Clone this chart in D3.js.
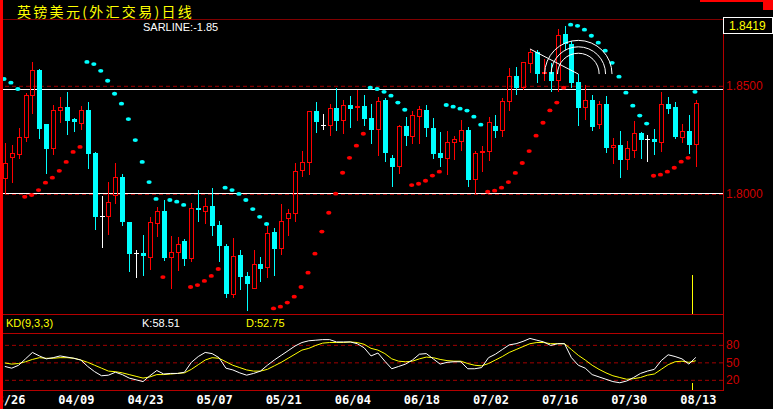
<!DOCTYPE html>
<html><head><meta charset="utf-8">
<script src="https://cdn.jsdelivr.net/npm/d3@7"></script>
<style>body{margin:0;background:#000;overflow:hidden}svg{display:block}</style>
</head><body><script>
// ---------- data ----------
const title = "英镑美元(外汇交易)日线";
const tickLabels = ["03/26","04/09","04/23","05/07","05/21","06/04","06/18","07/02","07/16","07/30","08/13"];
const open = [1.8067,1.8165,1.8178,1.8258,1.8452,1.8571,1.8321,1.8206,1.8383,1.8400,
1.8343,1.8323,1.8386,1.8186,1.7896,1.7893,1.7990,1.8076,1.7868,1.7724,
1.7724,1.7703,1.7861,1.7919,1.7703,1.7727,1.7781,1.7697,1.7933,1.7916,
1.7942,1.7855,1.7758,1.7531,1.7716,1.7619,1.7560,1.7674,1.7657,1.7822,
1.7744,1.7884,1.7903,1.8105,1.8142,1.8381,1.8317,1.8313,1.8395,1.8336,
1.8409,1.8396,1.8404,1.8349,1.8293,1.8432,1.8164,1.8122,1.8312,1.8261,
1.8354,1.8386,1.8303,1.8187,1.8159,1.8233,1.8238,1.8293,1.8062,1.8189,
1.8192,1.8312,1.8289,1.8423,1.8543,1.8487,1.8598,1.8654,1.8555,1.8561,
1.8520,1.8737,1.8691,1.8515,1.8395,1.8432,1.8317,1.8414,1.8210,1.8224,
1.8155,1.8196,1.8280,1.8252,1.8252,1.8233,1.8414,1.8400,1.8256,1.8289,
1.8224];
const high = [1.8233,1.8224,1.8301,1.8463,1.8609,1.8575,1.8321,1.8409,1.8447,1.8470,
1.8348,1.8404,1.8424,1.8193,1.7990,1.8055,1.8142,1.8090,1.7868,1.7739,
1.7808,1.7890,1.7936,1.7970,1.7804,1.7800,1.7790,1.7958,1.8016,1.7981,
1.8025,1.7873,1.7767,1.7794,1.7739,1.7637,1.7739,1.7707,1.7850,1.7842,
1.7953,1.7927,1.8140,1.8196,1.8381,1.8423,1.8367,1.8414,1.8487,1.8432,
1.8451,1.8478,1.8455,1.8414,1.8444,1.8441,1.8178,1.8317,1.8354,1.8381,
1.8404,1.8409,1.8349,1.8284,1.8289,1.8266,1.8340,1.8307,1.8196,1.8220,
1.8354,1.8363,1.8441,1.8580,1.8585,1.8608,1.8668,1.8663,1.8621,1.8603,
1.8760,1.8776,1.8705,1.8552,1.8501,1.8455,1.8427,1.8451,1.8256,1.8289,
1.8243,1.8335,1.8284,1.8270,1.8298,1.8469,1.8446,1.8423,1.8321,1.8363,
1.8432];
const low = [1.8002,1.8055,1.8163,1.8244,1.8371,1.8255,1.8093,1.8183,1.8332,1.8275,
1.8289,1.8298,1.8119,1.7836,1.7754,1.7813,1.7958,1.7856,1.7643,1.7616,
1.7624,1.7650,1.7804,1.7693,1.7565,1.7647,1.7670,1.7688,1.7873,1.7865,
1.7808,1.7688,1.7521,1.7523,1.7560,1.7462,1.7560,1.7597,1.7616,1.7624,
1.7722,1.7808,1.7873,1.8081,1.8090,1.8284,1.8298,1.8270,1.8293,1.8281,
1.8309,1.8340,1.8317,1.8233,1.8178,1.8150,1.8035,1.8095,1.8224,1.8233,
1.8233,1.8266,1.8164,1.8127,1.8090,1.8159,1.8201,1.8035,1.8002,1.8104,
1.8155,1.8261,1.8266,1.8386,1.8460,1.8483,1.8561,1.8515,1.8524,1.8474,
1.8474,1.8668,1.8492,1.8317,1.8344,1.8293,1.8303,1.8192,1.8141,1.8076,
1.8113,1.8169,1.8164,1.8150,1.8183,1.8196,1.8372,1.8256,1.8238,1.8187,
1.8127];
const close = [1.8141,1.8186,1.8260,1.8455,1.8571,1.8298,1.8206,1.8386,1.8400,1.8335,
1.8332,1.8386,1.8183,1.7893,1.7896,1.7961,1.8076,1.7868,1.7721,1.7724,
1.7711,1.7868,1.7918,1.7703,1.7728,1.7767,1.7697,1.7932,1.7924,1.7942,
1.7851,1.7759,1.7536,1.7711,1.7616,1.7583,1.7674,1.7651,1.7818,1.7744,
1.7873,1.7909,1.8104,1.8146,1.8381,1.8330,1.8317,1.8395,1.8335,1.8409,
1.8390,1.8404,1.8344,1.8293,1.8427,1.8187,1.8122,1.8312,1.8266,1.8363,
1.8390,1.8303,1.8183,1.8164,1.8238,1.8252,1.8293,1.8062,1.8187,1.8196,
1.8330,1.8289,1.8427,1.8543,1.8487,1.8608,1.8654,1.8552,1.8561,1.8520,
1.8732,1.8691,1.8511,1.8395,1.8432,1.8307,1.8414,1.8210,1.8224,1.8155,
1.8210,1.8280,1.8247,1.8252,1.8238,1.8414,1.8390,1.8261,1.8289,1.8224,
1.8419];
const sar = [1.8529,1.8512,1.8483,1.7985,1.7993,1.8016,1.8050,1.8073,1.8105,1.8146,
1.8192,1.8215,1.8608,1.8598,1.8567,1.8521,1.8461,1.8415,1.8344,1.8247,
1.8146,1.8053,1.7975,1.7614,1.7970,1.7962,1.7947,1.7568,1.7577,1.7596,
1.7619,1.7651,1.8027,1.8016,1.7998,1.7970,1.7928,1.7892,1.7859,1.7469,
1.7477,1.7496,1.7523,1.7568,1.7634,1.7722,1.7824,1.7911,1.7999,1.8096,
1.8165,1.8221,1.8276,1.8489,1.8483,1.8470,1.8452,1.8420,1.8387,1.8039,
1.8045,1.8059,1.8083,1.8101,1.8409,1.8401,1.8392,1.8383,1.8355,1.8318,
1.8008,1.8013,1.8027,1.8053,1.8095,1.8141,1.8196,1.8267,1.8327,1.8384,
1.8420,1.8489,1.8780,1.8775,1.8757,1.8729,1.8697,1.8660,1.8604,1.8540,
1.8466,1.8406,1.8360,1.8323,1.8082,1.8087,1.8101,1.8119,1.8147,1.8165,
1.8470];
const kValues = [43,40,45,56,67,61,56,58,61,59,
57,54,43,34,27,28,33,29,23,20,
17,27,36,30,31,31,33,50,60,67,
65,58,40,37,32,28,31,35,45,54,
62,70,78,84,87,88,89,89,85,85,
85,82,75,61,66,52,39,43,47,54,
64,65,56,47,50,51,51,39,39,41,
58,64,72,80,82,86,91,88,85,79,
82,82,58,45,40,29,25,21,17,15,
18,24,31,35,38,53,63,60,56,47,
58.51];
const dValues = [49,47,48,51,55,58,57,57,58,58,
57,54,50,45,40,35,34,32,29,26,
23,25,29,29,30,31,32,38,46,54,
58,57,51,45,41,37,35,35,38,44,
50,57,64,71,74,79,83,84,84,84,
85,84,81,74,71,65,56,52,51,52,
56,59,58,55,53,52,52,48,45,44,
48,54,60,67,72,77,82,84,84,82,
82,82,72,62,54,45,38,32,27,24,
21,22,24,28,30,38,46,51,52,50,
52.75];
const priceTicks = [1.80, 1.85];
const kdTicks = [20, 50, 80];
const hLines = [1.8481, 1.8002];          // user drawn horizontal lines
const fibLine = [{i:76, p:1.8668}, {i:83, p:1.8552}];
const fibRatios = [0.382, 0.5, 0.618];
const sarParam = "-1.85";

// categories: weekday dates 2004-03-26 .. 2004-08-13
const dates = d3.timeDay.range(new Date(2004,2,26), new Date(2004,7,14))
  .filter(d => d.getDay() !== 0 && d.getDay() !== 6)
  .map(d3.timeFormat("%m/%d"));

// ---------- layout ----------
const W = 773, H = 409;
const L = 3, R = 723;
const C = {red:"#ff0000", cyan:"#00ffff", white:"#ffffff", yellow:"#ffff00",
           frame:"#b40000", grid:"#a00000", label:"#d00000", dark:"#800000"};

const svg = d3.select("body").append("svg").attr("width", W).attr("height", H)
  .style("background", "#000");

const x = d3.scalePoint().domain(dates).range([4.8, 695.8]);
const y = d3.scaleLinear().domain([1.80, 1.85]).range([193.5, 85.3]);
const yK = d3.scaleLinear().domain([0, 100]).range([391.5, 333.2]);

const defs = svg.append("defs");
defs.append("clipPath").attr("id","clipMain").append("rect")
  .attr("x", L).attr("y", 20).attr("width", R - L).attr("height", 294);
defs.append("clipPath").attr("id","clipKD").append("rect")
  .attr("x", L).attr("y", 334).attr("width", R - L).attr("height", 56);

// ---------- frame ----------
const hline = (yy, x1, x2, col, dash) => svg.append("line")
  .attr("x1", x1).attr("x2", x2).attr("y1", yy).attr("y2", yy)
  .attr("stroke", col).attr("stroke-width", 1).attr("stroke-dasharray", dash || null);
hline(19.5, L, R, C.dark);
hline(314.5, L, R, C.frame);
hline(333.5, L, R, C.frame);
hline(390.5, L, R, C.frame);
svg.append("line").attr("x1", R + 0.5).attr("x2", R + 0.5).attr("y1", 19).attr("y2", 391)
  .attr("stroke", C.frame);

// price grid + axis
svg.append("g").attr("transform", `translate(${R},0)`)
  .call(d3.axisLeft(y).tickValues(priceTicks).tickSize(R - L).tickFormat(""))
  .call(g => { g.select(".domain").remove();
    g.selectAll("line").attr("stroke", C.grid).attr("stroke-dasharray", "4,3")
      .attr("transform", "translate(0,0.5)"); });
svg.append("g").attr("transform", `translate(${R},0)`)
  .call(d3.axisRight(y).tickValues(priceTicks).tickSize(0).tickPadding(3).tickFormat(d3.format(".4f")))
  .call(g => { g.select(".domain").remove();
    g.selectAll("text").attr("fill", C.label).attr("font-family", "Liberation Sans, Arial, sans-serif")
      .attr("font-size", 12); });

// KD grid + axis
svg.append("g").attr("transform", `translate(${R},0)`)
  .call(d3.axisLeft(yK).tickValues(kdTicks).tickSize(R - L).tickFormat(""))
  .call(g => { g.select(".domain").remove();
    g.selectAll("line").attr("stroke", C.grid).attr("stroke-dasharray", "4,3"); });
svg.append("g").attr("transform", `translate(${R},0)`)
  .call(d3.axisRight(yK).tickValues(kdTicks).tickSize(0).tickPadding(3).tickFormat(d3.format("d")))
  .call(g => { g.select(".domain").remove();
    g.selectAll("text").attr("fill", C.label).attr("font-family", "Liberation Sans, Arial, sans-serif")
      .attr("font-size", 12); });

// user horizontal lines
hLines.forEach(p => hline(Math.round(y(p)) + 0.5, L, R, C.white));

// ---------- candles ----------
const gMain = svg.append("g").attr("clip-path", "url(#clipMain)");
dates.forEach((d, i) => {
  const cx = Math.round(x(d));
  const o = open[i], c = close[i], h = high[i], l = low[i];
  const yo = Math.round(y(o)), yc = Math.round(y(c)), yh = Math.round(y(h)), yl = Math.round(y(l));
  const g = gMain.append("g");
  const vl = (a, b, col) => g.append("line").attr("x1", cx + 0.5).attr("x2", cx + 0.5)
    .attr("y1", a).attr("y2", b).attr("stroke", col);
  if (c > o) {
    const top = yc, bot = yo;
    if (yh < top) vl(yh, top, C.red);
    if (yl > bot) vl(bot, yl + 1, C.red);
    if (bot - top >= 2) {
      g.append("rect").attr("x", cx - 1.5).attr("y", top + 0.5).attr("width", 4)
        .attr("height", bot - top - 1).attr("fill", "none").attr("stroke", C.red);
    } else {
      g.append("rect").attr("x", cx - 2).attr("y", top).attr("width", 5)
        .attr("height", Math.max(1, bot - top + 1)).attr("fill", C.red);
    }
  } else if (c < o) {
    vl(yh, yl + 1, C.cyan);
    g.append("rect").attr("x", cx - 2).attr("y", yo).attr("width", 5)
      .attr("height", Math.max(1, yc - yo)).attr("fill", C.cyan);
  } else {
    vl(yh, yl + 1, C.white);
    g.append("line").attr("x1", cx - 2).attr("x2", cx + 3).attr("y1", yo + 0.5).attr("y2", yo + 0.5)
      .attr("stroke", C.white);
  }
});

// ---------- SAR ----------
gMain.selectAll("ellipse.sar").data(dates).join("ellipse").attr("class", "sar")
  .attr("cx", d => x(d) - 0.8)
  .attr("cy", (d, i) => y(sar[i]))
  .attr("rx", 2.6).attr("ry", 1.9)
  .attr("fill", (d, i) => sar[i] > close[i] ? C.cyan : C.red);

// ---------- Fibonacci arcs ----------
const fx0 = x(dates[fibLine[0].i]), fy0 = y(fibLine[0].p);
const fx1 = x(dates[fibLine[1].i]), fy1 = y(fibLine[1].p);
gMain.append("line").attr("x1", fx0).attr("y1", fy0).attr("x2", fx1).attr("y2", fy1)
  .attr("stroke", C.white);
const flen = Math.hypot(fx1 - fx0, fy1 - fy0);
fibRatios.forEach(r => {
  const rr = flen * r;
  gMain.append("path")
    .attr("d", `M${fx1 - rr},${fy1} A${rr},${rr} 0 0 1 ${fx1 + rr},${fy1}`)
    .attr("fill", "none").attr("stroke", C.white).attr("stroke-width", 1);
});

// current bar marker
const mx = Math.round(x(dates[100]) - 3.5) + 0.5;
svg.append("line").attr("x1", mx).attr("x2", mx).attr("y1", 275).attr("y2", 314).attr("stroke", C.yellow);
svg.append("line").attr("x1", mx).attr("x2", mx).attr("y1", 383).attr("y2", 390).attr("stroke", C.yellow);

// ---------- KD ----------
const gKD = svg.append("g").attr("clip-path", "url(#clipKD)");
gKD.append("path").datum(dValues)
  .attr("d", d3.line().x((v, i) => x(dates[i])).y(v => yK(v)))
  .attr("fill", "none").attr("stroke", C.yellow).attr("stroke-width", 1);
gKD.append("path").datum(kValues)
  .attr("d", d3.line().x((v, i) => x(dates[i])).y(v => yK(v)))
  .attr("fill", "none").attr("stroke", C.white).attr("stroke-width", 1);

const sans = "Liberation Sans, Arial, sans-serif";
svg.append("text").attr("x", 6).attr("y", 327).attr("fill", C.yellow)
  .attr("font-family", sans).attr("font-size", 11).text("KD(9,3,3)");
svg.append("text").attr("x", 142).attr("y", 327).attr("fill", C.white)
  .attr("font-family", sans).attr("font-size", 11).text("K:" + kValues[100].toFixed(2));
svg.append("text").attr("x", 246).attr("y", 327).attr("fill", C.yellow)
  .attr("font-family", sans).attr("font-size", 11).text("D:" + dValues[100].toFixed(2));

// ---------- date axis ----------
svg.append("g").attr("transform", "translate(2,392)")
  .call(d3.axisBottom(x).tickValues(tickLabels).tickSize(0).tickPadding(3))
  .call(g => { g.select(".domain").remove();
    g.selectAll("text").attr("fill", C.white).attr("font-family", "DejaVu Sans Mono, monospace")
      .attr("font-weight", "bold").attr("font-size", 12).attr("dy", "0.71em"); });

// ---------- titles ----------
svg.append("text").attr("x", 17).attr("y", 16.5).attr("fill", C.yellow)
  .attr("font-family", "Noto Sans CJK SC, sans-serif").attr("font-size", 14)
  .attr("letter-spacing", 2.3).text(title);
svg.append("text").attr("x", 143).attr("y", 31).attr("fill", C.white)
  .attr("font-family", sans).attr("font-size", 11).text("SARLINE:" + sarParam);

// last price box
svg.append("rect").attr("x", R + 0.5).attr("y", 17.5).attr("width", 49).attr("height", 16)
  .attr("fill", "#000").attr("stroke", C.white);
svg.append("text").attr("x", R + 6).attr("y", 30).attr("fill", C.yellow)
  .attr("font-family", sans).attr("font-size", 12).text(close[100].toFixed(4));

// edges
svg.append("rect").attr("x", 0).attr("y", 0).attr("width", 3).attr("height", H).attr("fill", C.red);
svg.append("rect").attr("x", 700).attr("y", 0).attr("width", 73).attr("height", 2).attr("fill", C.red);
svg.append("rect").attr("x", 763).attr("y", 0).attr("width", 10).attr("height", 10).attr("fill", C.red);
</script></body></html>
